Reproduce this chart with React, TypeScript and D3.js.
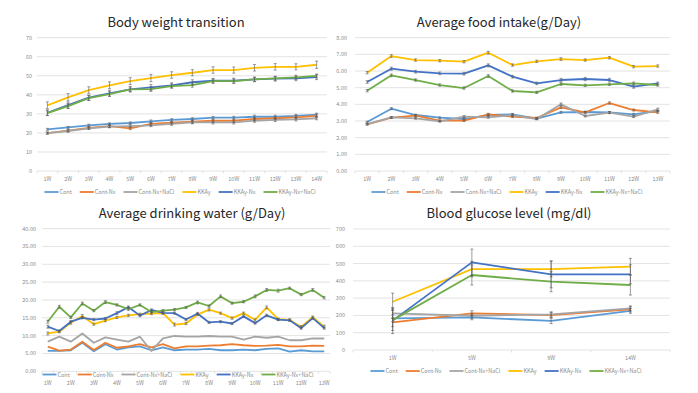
import React, { useEffect, useRef } from "react";
import * as d3 from "d3";

const seriesNames = ["Cont", "Cont-Nx", "Cont-Nx+NaCl", "KKAy", "KKAy-Nx", "KKAy-Nx+NaCl"];
const seriesColors = ["#5b9bd5", "#ed7d31", "#a5a5a5", "#ffc000", "#4472c4", "#70ad47"];

// Body weight transition (g)
const bwWeeks = ["1W", "2W", "3W", "4W", "5W", "6W", "7W", "8W", "9W", "10W", "11W", "12W", "13W", "14W"];
const bwCont = [21.9, 22.9, 24.0, 24.7, 25.2, 26.1, 26.8, 27.3, 28.0, 28.0, 28.5, 28.5, 28.9, 29.6];
const bwContNx = [19.9, 21.2, 22.7, 23.6, 22.4, 24.7, 25.4, 25.9, 26.4, 26.4, 27.3, 27.7, 28.2, 28.9];
const bwContNxNaCl = [19.9, 21.0, 22.4, 23.3, 23.6, 24.0, 24.7, 25.5, 25.5, 25.5, 26.4, 26.8, 27.1, 27.7];
const bwKKAy = [34.5, 38.7, 42.5, 45.0, 47.2, 48.8, 50.4, 51.6, 53.0, 53.0, 54.2, 54.7, 54.7, 55.8];
const bwKKAyNx = [30.6, 34.6, 38.5, 40.8, 42.9, 43.9, 45.0, 46.6, 47.4, 47.4, 48.1, 48.5, 48.6, 49.3];
const bwKKAyNxNaCl = [30.4, 34.1, 38.3, 40.4, 42.9, 43.0, 44.6, 45.1, 47.2, 47.2, 48.1, 48.6, 49.2, 49.9];
const bwErrCont = [0.5, 0.5, 0.6, 0.6, 0.6, 0.7, 0.7, 0.7, 0.7, 0.7, 0.8, 0.8, 0.8, 0.8];
const bwErrContNx = [0.6, 0.6, 0.6, 0.7, 0.7, 0.7, 0.7, 0.8, 0.8, 0.8, 0.8, 0.8, 0.8, 0.9];
const bwErrContNxNaCl = [0.5, 0.6, 0.6, 0.6, 0.7, 0.7, 0.7, 0.7, 0.8, 0.8, 0.8, 0.8, 0.8, 0.8];
const bwErrKKAy = [1.8, 1.9, 1.7, 1.8, 1.8, 1.9, 1.7, 1.6, 1.7, 1.6, 1.7, 1.7, 1.6, 1.9];
const bwErrKKAyNx = [1.5, 1.6, 1.4, 1.5, 1.4, 1.5, 1.3, 1.3, 1.2, 1.3, 1.2, 1.3, 1.2, 1.3];
const bwErrKKAyNxNaCl = [1.2, 1.3, 1.3, 1.2, 1.2, 1.2, 1.1, 1.1, 1.1, 1.1, 1.1, 1.0, 1.1, 1.0];

// Average food intake (g/Day)
const fiWeeks = ["1W", "2W", "3W", "4W", "5W", "6W", "7W", "8W", "9W", "10W", "11W", "12W", "13W"];
const fiCont = [2.94, 3.74, 3.36, 3.2, 3.12, 3.36, 3.4, 3.14, 3.52, 3.54, 3.52, 3.4, 3.6];
const fiContNx = [2.8, 3.2, 3.32, 3.02, 3.02, 3.4, 3.26, 3.18, 3.82, 3.52, 4.08, 3.66, 3.52];
const fiContNxNaCl = [2.82, 3.22, 3.16, 2.98, 3.26, 3.22, 3.36, 3.12, 4.0, 3.3, 3.5, 3.26, 3.7];
const fiKKAy = [5.9, 6.9, 6.66, 6.62, 6.56, 7.1, 6.36, 6.58, 6.72, 6.66, 6.8, 6.26, 6.3];
const fiKKAyNx = [5.34, 6.14, 5.96, 5.86, 5.84, 6.34, 5.66, 5.26, 5.46, 5.52, 5.46, 5.06, 5.26];
const fiKKAyNxNaCl = [4.82, 5.74, 5.46, 5.16, 4.98, 5.7, 4.8, 4.72, 5.22, 5.14, 5.2, 5.26, 5.16];
const fiErrCont = [0.05, 0.06, 0.05, 0.05, 0.05, 0.06, 0.05, 0.05, 0.06, 0.05, 0.05, 0.06, 0.05];
const fiErrContNx = [0.05, 0.05, 0.06, 0.05, 0.05, 0.06, 0.05, 0.05, 0.07, 0.06, 0.07, 0.06, 0.06];
const fiErrContNxNaCl = [0.05, 0.05, 0.05, 0.05, 0.06, 0.05, 0.05, 0.05, 0.08, 0.06, 0.06, 0.05, 0.07];
const fiErrKKAy = [0.07, 0.08, 0.07, 0.07, 0.07, 0.08, 0.07, 0.07, 0.08, 0.07, 0.07, 0.07, 0.07];
const fiErrKKAyNx = [0.08, 0.09, 0.08, 0.08, 0.08, 0.09, 0.08, 0.08, 0.1, 0.1, 0.1, 0.09, 0.08];
const fiErrKKAyNxNaCl = [0.07, 0.08, 0.07, 0.07, 0.07, 0.08, 0.07, 0.07, 0.08, 0.07, 0.07, 0.08, 0.07];

// Average drinking water (g/Day), measured twice a week
const dwWeeks = ["1W", "2W", "3W", "4W", "5W", "6W", "7W", "8W", "9W", "10W", "11W", "12W", "13W"];
const dwCont = [5.7, 5.7, 5.9, 8.0, 5.6, 7.6, 6.1, 6.7, 7.0, 5.9, 6.7, 5.9, 6.1, 6.1, 6.3, 5.9, 5.9, 6.1, 5.9, 6.3, 6.4, 5.5, 5.9, 5.6, 5.6];
const dwContNx = [6.9, 5.8, 6.1, 8.3, 6.0, 8.0, 6.6, 7.0, 7.6, 6.7, 7.6, 6.4, 7.0, 7.0, 7.2, 7.3, 7.6, 7.3, 7.1, 7.2, 7.4, 7.0, 7.0, 7.2, 7.1];
const dwContNxNaCl = [8.3, 9.7, 8.3, 10.6, 8.0, 9.5, 8.9, 8.3, 9.7, 5.7, 9.2, 9.9, 9.7, 9.7, 9.9, 9.7, 9.7, 8.9, 9.7, 9.4, 9.7, 8.7, 8.7, 9.2, 9.2];
const dwKKAy = [10.6, 11.1, 13.6, 15.5, 13.2, 14.2, 15.1, 15.7, 16.0, 16.2, 16.3, 13.1, 13.4, 15.9, 17.3, 16.3, 14.9, 16.3, 14.4, 17.9, 14.6, 14.4, 12.5, 15.2, 12.5];
const dwKKAyNx = [12.5, 11.3, 13.9, 15.0, 14.5, 14.8, 16.3, 18.0, 15.6, 17.2, 16.4, 16.3, 14.5, 16.2, 13.7, 13.9, 13.4, 15.4, 13.5, 15.7, 14.5, 14.3, 12.1, 14.9, 12.1];
const dwKKAyNxNaCl = [13.9, 18.1, 15.1, 19.0, 17.0, 19.4, 18.6, 17.4, 18.6, 16.6, 17.0, 17.3, 17.9, 19.3, 18.3, 21.0, 19.1, 19.5, 21.0, 22.8, 22.6, 23.3, 21.5, 22.8, 20.6];
const dwErrKKAy = [0.4, 0.3, 0.4, 0.4, 0.3, 0.3, 0.3, 0.3, 0.3, 0.3, 0.3, 0.4, 0.3, 0.3, 0.4, 0.3, 0.3, 0.3, 0.3, 0.4, 0.3, 0.3, 0.3, 0.3, 0.4];
const dwErrKKAyNx = [0.4, 0.3, 0.3, 0.3, 0.3, 0.3, 0.4, 0.3, 0.3, 0.3, 0.3, 0.3, 0.3, 0.3, 0.3, 0.3, 0.3, 0.3, 0.3, 0.3, 0.3, 0.3, 0.3, 0.3, 0.3];
const dwErrKKAyNxNaCl = [0.4, 0.4, 0.3, 0.4, 0.3, 0.4, 0.3, 0.3, 0.3, 0.3, 0.3, 0.3, 0.3, 0.4, 0.3, 0.4, 0.3, 0.3, 0.4, 0.4, 0.4, 0.3, 0.3, 0.4, 0.3];

// Blood glucose level (mg/dl)
const bgWeeks = ["1W", "5W", "9W", "14W"];
const bgCont = [183, 189, 168, 226];
const bgContNx = [160, 212, 202, 235];
const bgContNxNaCl = [212, 198, 206, 241];
const bgKKAy = [279, 468, 468, 482];
const bgKKAyNx = [170, 507, 438, 438];
const bgKKAyNxNaCl = [173, 434, 395, 376];
const bgErrCont = [20, 14, 15, 14];
const bgErrContNx = [25, 15, 14, 15];
const bgErrContNxNaCl = [30, 14, 15, 14];
const bgErrKKAy = [50, 45, 45, 48];
const bgErrKKAyNx = [75, 77, 78, 55];
const bgErrKKAyNxNaCl = [60, 58, 58, 58];

const FONT = '"Noto Sans CJK JP", "Noto Sans", sans-serif';

function drawPanel(svg, p) {
  const g = svg.append("g");
  const n = p.series[0].length;
  const x = d3.scaleBand().domain(d3.range(n)).range([p.x0, p.x1]);
  const y = d3.scaleLinear().domain([0, p.yMax]).range([p.yBottom, p.yTop]);
  const cx = (i) => x(i) + x.bandwidth() / 2;

  const ticks = d3.range(0, p.yMax + p.yStep / 2, p.yStep);
  g.selectAll(".grid").data(ticks).join("line")
    .attr("x1", p.x0).attr("x2", p.x1)
    .attr("y1", d => y(d)).attr("y2", d => y(d))
    .attr("stroke", "#d9d9d9").attr("stroke-width", 0.75);

  g.selectAll(".ylab").data(ticks).join("text")
    .attr("x", p.yLabelX).attr("y", d => y(d) + 2)
    .attr("text-anchor", "end")
    .attr("font-size", 5.5).attr("fill", "#8c8c8c").attr("font-family", FONT)
    .text(p.yFmt);

  // category ticks under the axis
  g.selectAll(".xtick").data(d3.range(n + 1)).join("line")
    .attr("x1", i => p.x0 + i * x.step()).attr("x2", i => p.x0 + i * x.step())
    .attr("y1", p.yBottom).attr("y2", p.yBottom + 2.5)
    .attr("stroke", "#d9d9d9").attr("stroke-width", 0.75);

  g.selectAll(".xlab").data(p.labels).join("text")
    .attr("x", (d, i) => cx(i * p.labelEvery))
    .attr("y", p.xLabelY)
    .attr("text-anchor", "middle")
    .attr("font-size", 5.5).attr("fill", "#8c8c8c").attr("font-family", FONT)
    .text(d => d);

  const line = d3.line().x((d, i) => cx(i)).y(d => y(d));
  p.series.forEach((vals, s) => {
    g.append("path").datum(vals)
      .attr("d", line)
      .attr("fill", "none")
      .attr("stroke", seriesColors[s])
      .attr("stroke-width", 1.8)
      .attr("stroke-linejoin", "round");
  });

  p.errors.forEach((errs, s) => {
    if (!errs) return;
    const vals = p.series[s];
    const eg = g.append("g").attr("stroke", "#595959").attr("stroke-width", 0.6);
    errs.forEach((e, i) => {
      const xx = cx(i);
      eg.append("line").attr("x1", xx).attr("x2", xx).attr("y1", y(vals[i] - e)).attr("y2", y(vals[i] + e));
      eg.append("line").attr("x1", xx - 1.5).attr("x2", xx + 1.5).attr("y1", y(vals[i] - e)).attr("y2", y(vals[i] - e));
      eg.append("line").attr("x1", xx - 1.5).attr("x2", xx + 1.5).attr("y1", y(vals[i] + e)).attr("y2", y(vals[i] + e));
    });
  });

  g.append("text")
    .attr("x", p.titleX).attr("y", p.titleY)
    .attr("text-anchor", "middle")
    .attr("font-size", p.titleSize).attr("fill", "#262626").attr("font-family", FONT)
    .text(p.title);

  const lg = g.append("g");
  let pos = 0;
  seriesNames.forEach((name, i) => {
    const it = lg.append("g").attr("transform", `translate(${pos},0)`);
    it.append("line").attr("x1", 0).attr("x2", 14).attr("y1", 0).attr("y2", 0)
      .attr("stroke", seriesColors[i]).attr("stroke-width", 1.8);
    const t = it.append("text").attr("x", 15).attr("y", 2)
      .attr("font-size", 5.5).attr("fill", "#8c8c8c").attr("font-family", FONT)
      .text(name);
    pos += 15 + t.node().getComputedTextLength() + 8;
  });
  const total = pos - 8;
  lg.attr("transform", `translate(${p.legendCx - total / 2},${p.legendY})`);
}

export default function App() {
  const ref = useRef(null);

  useEffect(() => {
    const svg = d3.select(ref.current);
    svg.selectAll("*").remove();

    drawPanel(svg, {
      title: "Body weight transition", titleX: 176, titleY: 27, titleSize: 13,
      x0: 37, x1: 327, yTop: 37.7, yBottom: 171, yMax: 70, yStep: 10,
      yLabelX: 32, yFmt: d => d3.format("d")(d),
      labels: bwWeeks, labelEvery: 1, xLabelY: 181,
      series: [bwCont, bwContNx, bwContNxNaCl, bwKKAy, bwKKAyNx, bwKKAyNxNaCl],
      errors: [bwErrCont, bwErrContNx, bwErrContNxNaCl, bwErrKKAy, bwErrKKAyNx, bwErrKKAyNxNaCl],
      legendCx: 180, legendY: 192
    });

    drawPanel(svg, {
      title: "Average food intake(g/Day)", titleX: 499, titleY: 27, titleSize: 13,
      x0: 355, x1: 670, yTop: 37.7, yBottom: 171, yMax: 8, yStep: 1,
      yLabelX: 347, yFmt: d => d3.format(".2f")(d),
      labels: fiWeeks, labelEvery: 1, xLabelY: 181,
      series: [fiCont, fiContNx, fiContNxNaCl, fiKKAy, fiKKAyNx, fiKKAyNxNaCl],
      errors: [fiErrCont, fiErrContNx, fiErrContNxNaCl, fiErrKKAy, fiErrKKAyNx, fiErrKKAyNxNaCl],
      legendCx: 507, legendY: 192
    });

    drawPanel(svg, {
      title: "Average drinking water (g/Day)", titleX: 192, titleY: 218, titleSize: 13,
      x0: 42, x1: 330, yTop: 228.6, yBottom: 371.3, yMax: 40, yStep: 5,
      yLabelX: 36, yFmt: d => d3.format(".2f")(d),
      labels: dwWeeks, labelEvery: 2, xLabelY: 385,
      series: [dwCont, dwContNx, dwContNxNaCl, dwKKAy, dwKKAyNx, dwKKAyNxNaCl],
      errors: [null, null, null, dwErrKKAy, dwErrKKAyNx, dwErrKKAyNxNaCl],
      legendCx: 178, legendY: 374.5
    });

    drawPanel(svg, {
      title: "Blood glucose level (mg/dl)", titleX: 509, titleY: 218, titleSize: 13,
      x0: 353, x1: 670, yTop: 229, yBottom: 350, yMax: 700, yStep: 100,
      yLabelX: 345, yFmt: d => d3.format("d")(d),
      labels: bgWeeks, labelEvery: 1, xLabelY: 360,
      series: [bgCont, bgContNx, bgContNxNaCl, bgKKAy, bgKKAyNx, bgKKAyNxNaCl],
      errors: [bgErrCont, bgErrContNx, bgErrContNxNaCl, bgErrKKAy, bgErrKKAyNx, bgErrKKAyNxNaCl],
      legendCx: 506, legendY: 371
    });
  }, []);

  return (
    <svg ref={ref} width={698} height={393}
      style={{ position: "absolute", left: 0, top: 0, background: "#fff" }} />
  );
}
